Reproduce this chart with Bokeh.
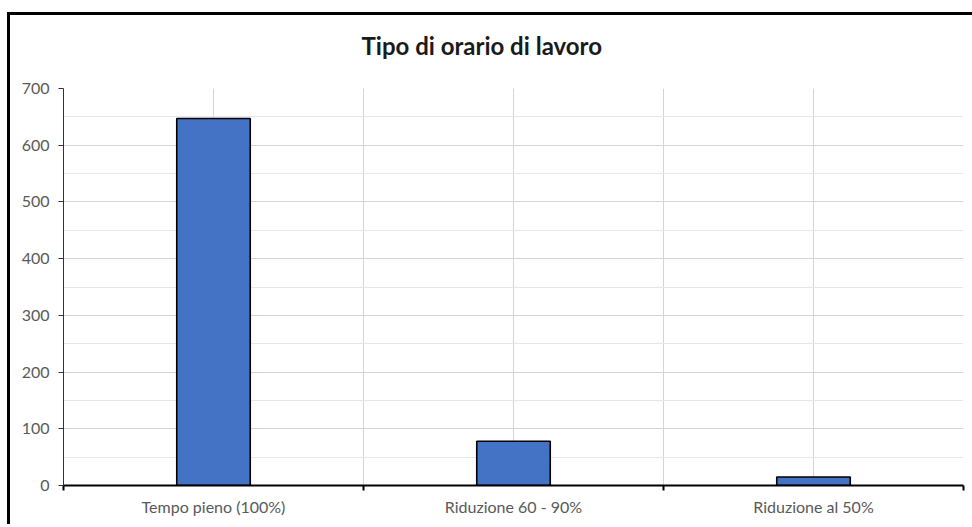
from bokeh.plotting import figure
from bokeh.layouts import column
from bokeh.models import Range1d, FixedTicker, ColumnDataSource
from bokeh.embed import file_html
from bokeh.resources import INLINE

# Data
categories = ["Tempo pieno (100%)", "Riduzione 60 - 90%", "Riduzione al 50%"]
counts = [647, 78, 15]
y_ticks = [0, 100, 200, 300, 400, 500, 600, 700]
y_minor = [50, 150, 250, 350, 450, 550, 650]

centers = [i + 0.5 for i in range(len(categories))]
bounds = list(range(len(categories) + 1))

src = ColumnDataSource(dict(x=centers, top=counts, label=categories))

p = figure(width=972, height=524, output_backend="svg", toolbar_location=None,
           x_range=Range1d(0, len(categories)), y_range=Range1d(0, 700),
           min_border_left=63, min_border_right=9, min_border_top=88,
           min_border_bottom=39)
p.background_fill_color = "white"
p.border_fill_alpha = 0
p.outline_line_color = None
p.styles = {"overflow": "hidden"}

p.title.text = "Tipo di orario di lavoro"
p.title.align = "left"
p.title.offset = 298
p.title.standoff = 57
p.title.text_font = "Lato"
p.title.text_font_size = "24px"
p.title.text_font_style = "bold"
p.title.text_color = "#1a1a1a"

p.vbar(x="x", top="top", width=0.245, source=src,
       fill_color="#4472C4", line_color="black", line_width=1.6)

# x axis: labels at category centres, tick marks at category boundaries
xa = p.xaxis[0]
xa.ticker = FixedTicker(ticks=centers, minor_ticks=bounds)
xa.major_label_overrides = {c: lab for c, lab in zip(centers, categories)}
xa.major_tick_out = 0
xa.major_tick_in = 0
xa.minor_tick_out = 5
xa.minor_tick_in = 0
xa.minor_tick_line_color = "black"
xa.minor_tick_line_width = 2
xa.axis_line_color = "black"
xa.axis_line_width = 2
xa.major_label_text_font = "Lato"
xa.major_label_text_font_size = "16px"
xa.major_label_text_color = "#595959"
xa.major_label_standoff = 6

ya = p.yaxis[0]
ya.ticker = FixedTicker(ticks=y_ticks, minor_ticks=y_minor)
ya.major_tick_out = 5
ya.major_tick_in = 0
ya.major_tick_line_color = "#333333"
ya.minor_tick_out = 0
ya.minor_tick_in = 0
ya.axis_line_color = "#333333"
ya.axis_line_width = 1
ya.major_label_text_font = "Lato"
ya.major_label_text_font_size = "16px"
ya.major_label_text_color = "#595959"
ya.major_label_standoff = 9

p.xgrid.grid_line_color = "#d4d4d4"
p.xgrid.minor_grid_line_color = "#d4d4d4"
p.ygrid.grid_line_color = "#d4d4d4"
p.ygrid.minor_grid_line_color = "#e6e6e6"

# chart-area frame: left and top edges (the rest runs past the page)
page = column(p, width=972, height=524, styles={
    "overflow": "hidden",
    "background": "linear-gradient(#000, #000) 7px 12px / 3px 600px no-repeat, "
                  "linear-gradient(#000, #000) 7px 12px / 1100px 3px no-repeat, "
                  "#ffffff"})

open("out.html", "w").write(file_html(page, INLINE))
